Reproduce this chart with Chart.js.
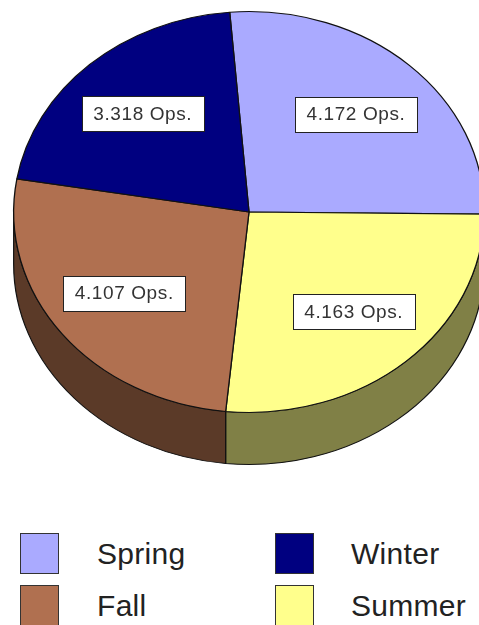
<!DOCTYPE html>
<html>
<head>
<meta charset="utf-8">
<script src="https://cdn.jsdelivr.net/npm/chart.js@4/dist/chart.umd.min.js"></script>
<style>
	html, body { margin: 0; padding: 0; background: #fff; overflow: hidden; width: 479px; height: 625px; }
	#wrap { position: absolute; left: 0; top: 0; width: 500px; height: 472px; }
	.key { position: absolute; width: 37px; height: 39px; border: 1px solid #333; }
	.keyText { position: absolute; font-family: "Liberation Sans", Arial, sans-serif; font-size: 30px; color: #222; line-height: 30px; letter-spacing: 0.3px; }
</style>
</head>
<body>
<div id="wrap"><canvas id="pieChart"></canvas></div>
<div id="legend"></div>
<script>
// Data
const seasons = ['Spring', 'Summer', 'Fall', 'Winter'];
const opsValues = [4.172, 4.163, 4.107, 3.318];
const valueLabels = ['4.172 Ops.', '4.163 Ops.', '4.107 Ops.', '3.318 Ops.'];
const topColors = ['#AAAAFF', '#FFFF8C', '#B07050', '#000080'];
const sideColors = ['#555580', '#808046', '#5B3A28', '#000040'];

// legend order as laid out in the picture (2 columns)
const legendOrder = ['Spring', 'Winter', 'Fall', 'Summer'];

// tilt of the pie: display ellipse is squashed vertically
const TILT = 201 / 236;
const CENTER_Y = 212;
const DEPTH = 52;

function clipFront(s, e) {
	// visible front half of the rim is canvas angle 0..PI
	const parts = [];
	for (const k of [-2, 0, 2]) {
		const lo = Math.max(s, k * Math.PI);
		const hi = Math.min(e, k * Math.PI + Math.PI);
		if (hi > lo) parts.push([lo, hi]);
	}
	return parts;
}

const pie3d = {
	id: 'pie3d',
	beforeDatasetsDraw(chart) {
		const ctx = chart.ctx;
		const arcs = chart.getDatasetMeta(0).data;
		const cx = arcs[0].x, cy = arcs[0].y;
		ctx.save();
		ctx.translate(cx, CENTER_Y);
		ctx.scale(1, TILT);
		ctx.translate(-cx, -cy);
		// draw the side walls first, the top covers them
		const d = DEPTH / TILT;
		arcs.forEach((arc, i) => {
			const r = arc.outerRadius;
			clipFront(arc.startAngle, arc.endAngle).forEach(([a0, a1]) => {
				ctx.beginPath();
				ctx.arc(cx, cy, r, a0, a1);
				ctx.arc(cx, cy + d, r, a1, a0, true);
				ctx.closePath();
				ctx.fillStyle = sideColors[i];
				ctx.fill();
				ctx.lineWidth = 1.2;
				ctx.strokeStyle = '#111';
				ctx.stroke();
			});
		});
	},
	afterDatasetsDraw(chart) {
		const ctx = chart.ctx;
		ctx.restore();
		const arcs = chart.getDatasetMeta(0).data;
		ctx.font = '19px "Liberation Sans", Arial, sans-serif';
		ctx.textAlign = 'center';
		ctx.textBaseline = 'middle';
		arcs.forEach((arc, i) => {
			const mid = (arc.startAngle + arc.endAngle) / 2;
			const rr = arc.outerRadius * 0.667;
			const x = arc.x + rr * Math.cos(mid);
			const y = CENTER_Y + rr * TILT * Math.sin(mid);
			const w = 122, h = 35;
			ctx.fillStyle = '#fff';
			ctx.fillRect(Math.round(x - w / 2) + 0.5, Math.round(y - h / 2) + 0.5, w, h);
			ctx.lineWidth = 1;
			ctx.strokeStyle = '#222';
			ctx.strokeRect(Math.round(x - w / 2) + 0.5, Math.round(y - h / 2) + 0.5, w, h);
			ctx.fillStyle = '#333';
			ctx.letterSpacing = '0.6px';
			ctx.fillText(valueLabels[i], x, y + 1);
		});
	}
};

new Chart(document.getElementById('pieChart'), {
	type: 'pie',
	data: {
		labels: seasons,
		datasets: [{
			data: opsValues,
			backgroundColor: topColors,
			borderColor: '#111',
			borderWidth: 1.3
		}]
	},
	options: {
		responsive: true,
		maintainAspectRatio: false,
		animation: false,
		events: [],
		rotation: -4.7,
		layout: { padding: { left: 13, right: 15, top: 0, bottom: 0 } },
		plugins: {
			legend: { display: false },
			tooltip: { enabled: false }
		}
	},
	plugins: [pie3d]
});

// HTML legend in two columns
const legend = document.getElementById('legend');
legendOrder.forEach((name, j) => {
	const i = seasons.indexOf(name);
	const col = j % 2, row = Math.floor(j / 2);
	const box = document.createElement('div');
	box.className = 'key';
	box.style.left = (20 + col * 255) + 'px';
	box.style.top = (533 + row * 52) + 'px';
	box.style.background = topColors[i];
	legend.appendChild(box);
	const txt = document.createElement('div');
	txt.className = 'keyText';
	txt.style.left = (97 + col * 254) + 'px';
	txt.style.top = (539 + row * 52) + 'px';
	txt.textContent = name;
	legend.appendChild(txt);
});
</script>
</body>
</html>
